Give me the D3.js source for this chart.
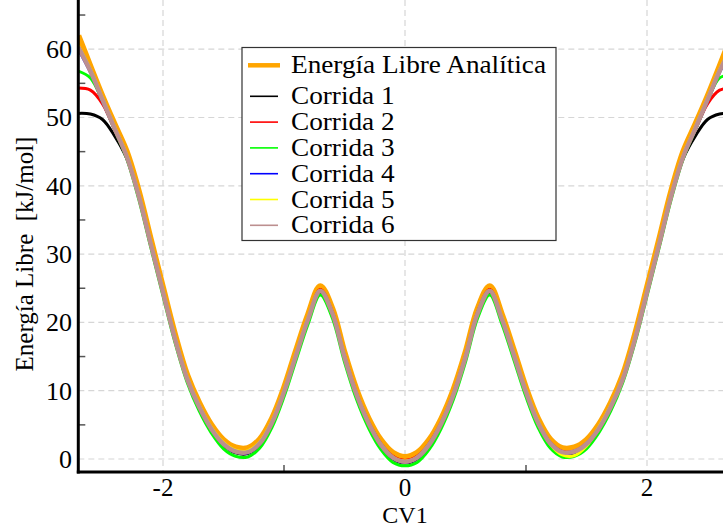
<!DOCTYPE html>
<html>
<head>
<meta charset="utf-8">
<script src="https://cdn.jsdelivr.net/npm/d3@7"></script>
<style>
  html, body { margin: 0; padding: 0; background: #fff; }
  svg { display: block; }
</style>
</head>
<body>
<svg id="chart" width="723" height="527"></svg>
<script>
// ---------------- data ----------------
const cv1 = [-2.7,-2.6,-2.5,-2.4,-2.3,-2.2,-2.1,-2.0,-1.9,-1.8,-1.7,-1.6,-1.5,-1.4,-1.3,-1.2,-1.1,-1.0,-0.9,-0.8,-0.7,-0.6,-0.5,-0.4,-0.3,-0.2,-0.1,
  0.0,
  0.1,0.2,0.3,0.4,0.5,0.6,0.7,0.8,0.9,1.0,1.1,1.2,1.3,1.4,1.5,1.6,1.7,1.8,1.9,2.0,2.1,2.2,2.3,2.4,2.5,2.6,2.7];

const analytic = [62.0,57.5,53.1,49.0,45.0,39.2,32.1,25.1,18.2,12.3,8.2,5.0,2.8,1.7,1.6,2.9,5.9,10.4,15.9,21.2,25.3,22.0,15.6,10.1,5.9,2.8,0.9,
  0.3,
  0.9,2.8,5.9,10.1,15.6,22.0,25.3,21.2,15.9,10.4,5.9,2.9,1.6,1.7,2.8,5.0,8.2,12.3,18.2,25.1,32.1,39.2,45.0,49.0,53.1,57.5,62.0];

const run1 = [50.6,50.5,49.7,47.3,44.0,38.3,31.2,24.2,17.3,11.5,7.4,4.2,2.0,0.9,0.8,2.1,5.1,9.6,15.0,20.3,24.4,21.1,14.7,9.2,5.0,1.9,0.0,
  -0.6,
  0.0,1.9,5.0,9.2,14.7,21.1,24.4,20.3,15.0,9.6,5.1,2.1,0.8,0.9,2.0,4.2,7.4,11.5,17.3,24.2,31.2,38.3,44.0,47.3,49.7,50.5,50.6];

const run2 = [54.3,54.0,52.0,48.2,44.2,38.6,31.5,24.5,17.6,11.8,7.7,4.5,2.3,1.2,1.1,2.4,5.4,9.9,15.3,20.6,24.8,21.5,15.1,9.6,5.4,2.3,0.4,
  -0.2,
  0.4,2.3,5.4,9.6,15.1,21.5,24.8,20.6,15.3,9.9,5.4,2.4,1.1,1.2,2.3,4.5,7.7,11.8,17.6,24.5,31.5,38.6,44.2,48.2,52.0,54.0,54.3];

const run3 = [56.8,55.8,52.4,48.2,44.0,38.0,30.9,23.9,17.0,11.2,7.0,3.8,1.5,0.4,0.3,1.6,4.6,9.1,14.5,19.8,24.0,20.6,14.2,8.7,4.5,1.4,-0.5,
  -1.0,
  -0.5,1.4,4.5,8.7,14.2,20.6,24.0,19.8,14.5,9.1,4.6,1.6,0.3,0.4,1.5,3.8,7.0,11.2,17.0,23.9,30.9,38.0,44.0,48.2,52.4,55.8,56.2];

const run4 = [60.0,56.6,52.4,48.3,44.2,38.4,31.3,24.3,17.4,11.6,7.5,4.3,2.1,1.0,0.9,2.2,5.2,9.7,15.1,20.4,24.6,21.2,14.8,9.3,5.1,2.0,0.1,
  -0.5,
  0.1,2.0,5.1,9.3,14.8,21.2,24.6,20.4,15.1,9.7,5.2,2.2,0.9,1.0,2.1,4.3,7.5,11.6,17.4,24.3,31.3,38.4,44.2,48.3,52.4,56.6,60.0];

const run5 = [60.5,57.0,52.8,48.6,44.5,38.7,31.6,24.6,17.7,11.9,7.8,4.6,2.4,1.3,1.2,2.5,5.5,10.0,15.4,20.7,24.7,21.4,15.0,9.5,5.3,2.2,0.3,
  -0.3,
  0.3,2.2,5.3,9.5,15.0,21.4,24.7,20.7,15.4,10.0,5.5,2.2,0.6,0.5,1.9,4.6,7.8,11.9,17.7,24.6,31.6,38.7,44.5,48.6,52.8,57.0,60.5];

const run6 = [60.3,56.8,52.6,48.4,44.3,38.5,31.4,24.4,17.5,11.7,7.6,4.4,2.2,1.1,1.0,2.3,5.3,9.8,15.2,20.5,24.6,21.3,14.9,9.4,5.2,2.1,0.2,
  -0.4,
  0.2,2.1,5.2,9.4,14.9,21.3,24.6,20.5,15.2,9.8,5.3,2.3,1.0,1.1,2.2,4.4,7.6,11.7,17.5,24.4,31.4,38.5,44.3,48.4,52.6,56.8,60.3];

const seriesNames = ["Energía Libre Analítica","Corrida 1","Corrida 2","Corrida 3","Corrida 4","Corrida 5","Corrida 6"];
const seriesColors = ["#ffa500","#000000","#ff0000","#00ff00","#0000ff","#ffff00","#bc8f8f"];
const seriesValues = [analytic, run1, run2, run3, run4, run5, run6];

const xMajorTicks = [-2, 0, 2];
const xMinorTicks = [-1, 1];
const yMajorTicks = [0, 10, 20, 30, 40, 50, 60];
const yMinorTicks = [5, 15, 25, 35, 45, 55, 65];

const xLabel = "CV1";
const yLabel = "Energía Libre  [kJ/mol]";

const FONT = "'Liberation Serif', 'Times New Roman', Tinos, 'DejaVu Serif', serif";

// ---------------- layout ----------------
const svg = d3.select("#chart");
const pLeft = 78.3, pRight = 731.7, pBottom = 472, pTop = 0;

const x = d3.scaleLinear().domain([-2.7, 2.7]).range([pLeft, pRight]);
const y = d3.scaleLinear().domain([-1.9, 67.2]).range([pBottom, pTop]);

svg.append("defs").append("clipPath").attr("id", "plotclip")
  .append("rect").attr("x", pLeft).attr("y", pTop).attr("width", pRight - pLeft).attr("height", pBottom - pTop);

// grid
const grid = svg.append("g");
grid.selectAll("line.gx").data(xMajorTicks).join("line")
  .attr("x1", d => x(d)).attr("x2", d => x(d))
  .attr("y1", pTop).attr("y2", pBottom)
  .attr("stroke", "#d6d6d6").attr("stroke-width", 1.2).attr("stroke-dasharray", "6,4");
grid.selectAll("line.gy").data(yMajorTicks).join("line")
  .attr("x1", pLeft).attr("x2", 723)
  .attr("y1", d => y(d)).attr("y2", d => y(d))
  .attr("stroke", "#d6d6d6").attr("stroke-width", 1.2).attr("stroke-dasharray", "6,4");

// data
const plot = svg.append("g").attr("clip-path", "url(#plotclip)");
const line = d3.line().x((d, i) => x(cv1[i])).y(d => y(d)).curve(d3.curveCatmullRom.alpha(0.5));
const widths = [6, 3, 3, 3, 3, 3, 4.5];
seriesValues.forEach((vals, k) => {
  plot.append("path")
    .datum(vals)
    .attr("d", line)
    .attr("fill", "none")
    .attr("stroke", seriesColors[k])
    .attr("stroke-width", widths[k])
    .attr("stroke-linejoin", "round");
});

// minor ticks
svg.selectAll("line.mx").data(xMinorTicks).join("line")
  .attr("x1", d => x(d)).attr("x2", d => x(d))
  .attr("y1", pBottom).attr("y2", pBottom - 7)
  .attr("stroke", "#555").attr("stroke-width", 1.5);
svg.selectAll("line.my").data(yMinorTicks).join("line")
  .attr("x1", pLeft).attr("x2", pLeft + 7)
  .attr("y1", d => y(d)).attr("y2", d => y(d))
  .attr("stroke", "#555").attr("stroke-width", 1.5);

// axes lines
svg.append("line").attr("x1", pLeft).attr("x2", pLeft).attr("y1", pTop).attr("y2", pBottom + 1.5)
  .attr("stroke", "#000").attr("stroke-width", 3);
svg.append("line").attr("x1", pLeft - 1.5).attr("x2", 723).attr("y1", pBottom).attr("y2", pBottom)
  .attr("stroke", "#000").attr("stroke-width", 3);

// tick labels
svg.selectAll("text.ty").data(yMajorTicks).join("text")
  .attr("x", 72).attr("y", d => y(d) + 8.8)
  .attr("text-anchor", "end").attr("font-size", 26).attr("font-family", FONT)
  .text(d => d);
svg.selectAll("text.tx").data(xMajorTicks).join("text")
  .attr("x", d => x(d)).attr("y", 495.5)
  .attr("text-anchor", "middle").attr("font-size", 25).attr("font-family", FONT)
  .text(d => d);

// axis labels
svg.append("text").attr("x", 405).attr("y", 523).attr("text-anchor", "middle")
  .attr("font-size", 24).attr("font-family", FONT).text(xLabel);
svg.append("text").attr("transform", "translate(33,254) rotate(-90)")
  .attr("text-anchor", "middle").attr("font-size", 25).attr("font-family", FONT)
  .style("white-space", "pre")
  .text(yLabel);

// legend
const lg = svg.append("g");
lg.append("rect").attr("x", 242).attr("y", 47.5).attr("width", 314).attr("height", 193)
  .attr("fill", "#fff").attr("stroke", "#333").attr("stroke-width", 1.2);
const baselines = [73.3, 104.3, 130.1, 155.9, 181.7, 207.5, 233.3];
seriesNames.forEach((name, k) => {
  lg.append("line")
    .attr("x1", k === 0 ? 248 : 250).attr("x2", k === 0 ? 280 : 278)
    .attr("y1", baselines[k] - 8).attr("y2", baselines[k] - 8)
    .attr("stroke", seriesColors[k]).attr("stroke-width", k === 0 ? 4.5 : 1.6);
  lg.append("text")
    .attr("transform", `translate(291,${baselines[k]}) scale(1.09,1)`)
    .attr("font-size", 25).attr("font-family", FONT).text(name);
});
</script>
</body>
</html>
